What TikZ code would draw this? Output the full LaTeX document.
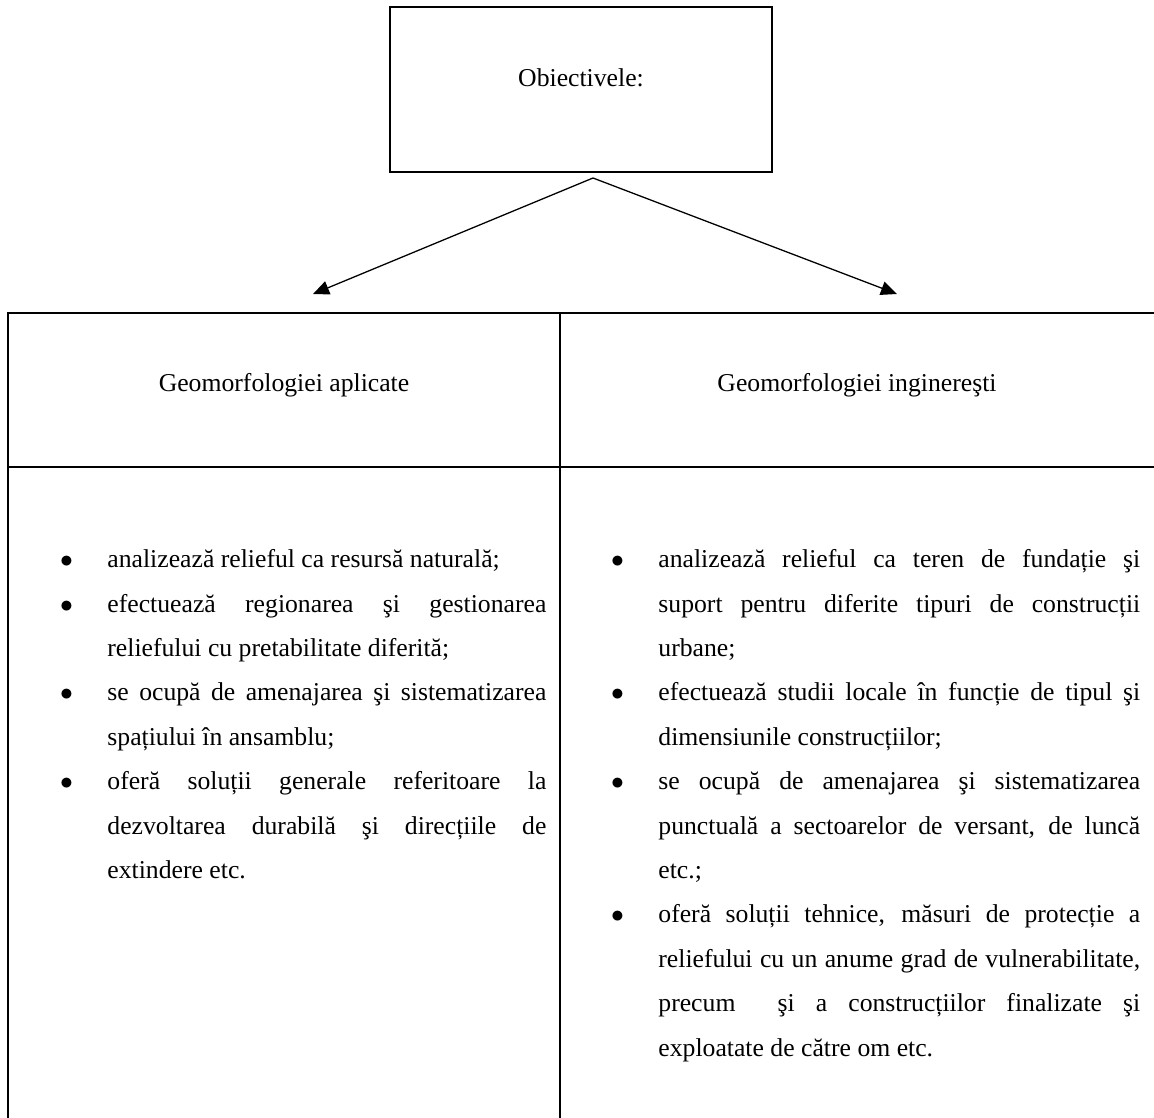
\documentclass[tikz,border=0pt]{standalone}
\usepackage{fontspec}
\setmainfont{Liberation Serif}
\usetikzlibrary{arrows.meta}

\hyphenpenalty=10000
\tolerance=9999
% one bullet item of a column
\newcommand{\itm}{\par\noindent\strut\llap{$\bullet$\hspace{16.1pt}}}

\begin{document}
\begin{tikzpicture}[x=0.467pt, y=-0.467pt,
    frame/.style={line width=0.9pt},
    objbox/.style={draw, line width=0.9pt, inner sep=0pt, minimum width=178.4pt, minimum height=77.1pt},
    link/.style={line width=0.6pt, -{Triangle[length=7.5pt, width=6.5pt]}},
    head/.style={anchor=base, inner sep=0pt, font=\fontsize{12}{14}\selectfont},
    body/.style={anchor=north west, inner sep=0pt, align=justify, font=\fontsize{12}{20.73}\selectfont}]
    \useasboundingbox (0,0) rectangle (1154,1118);

    % Draw the top box
    \node[objbox] (obj) at (581,89.5) {};
    \node[head] (objtxt) at (581,86) {Obiectivele:};

    % Draw the two arrows
    \coordinate (apex) at (593,178);
    \coordinate (tipL) at (313,294);
    \coordinate (tipR) at (897,294);
    \draw[link] (apex) -- (tipL);
    \draw[link] (apex) -- (tipR);

    % Draw the table lines
    \draw[frame] (8,1125) -- (8,313) -- (1160,313);
    \draw[frame] (8,467) -- (1160,467);
    \draw[frame] (560,313) -- (560,1125);

    % Column heads
    \node[head] (hleft) at (284,391) {Geomorfologiei aplicate};
    \node[head] (hright) at (857,391) {Geomorfologiei inginereşti};

    % Column bodies
    \node[body, text width=205pt] (bleft) at (107,523) {%
        \itm analizează relieful ca resursă naturală;
        \itm efectuează regionarea şi gestionarea\linebreak reliefului cu pretabilitate diferită;
        \itm se ocupă de amenajarea şi sistematizarea\linebreak spațiului în ansamblu;
        \itm oferă soluții generale referitoare la\linebreak dezvoltarea durabilă şi direcțiile de\linebreak extindere etc.};
    \node[body, text width=225pt] (bright) at (658,523) {%
        \itm analizează relieful ca teren de fundație şi\linebreak suport pentru diferite tipuri de construcții\linebreak urbane;
        \itm efectuează studii locale în funcție de tipul şi\linebreak dimensiunile construcțiilor;
        \itm se ocupă de amenajarea şi sistematizarea\linebreak punctuală a sectoarelor de versant, de luncă\linebreak etc.;
        \itm oferă soluții tehnice, măsuri de protecție a\linebreak reliefului cu un anume grad de vulnerabilitate,\linebreak precum\ \ şi a construcțiilor finalizate şi\linebreak exploatate de către om etc.};
\end{tikzpicture}
\end{document}
